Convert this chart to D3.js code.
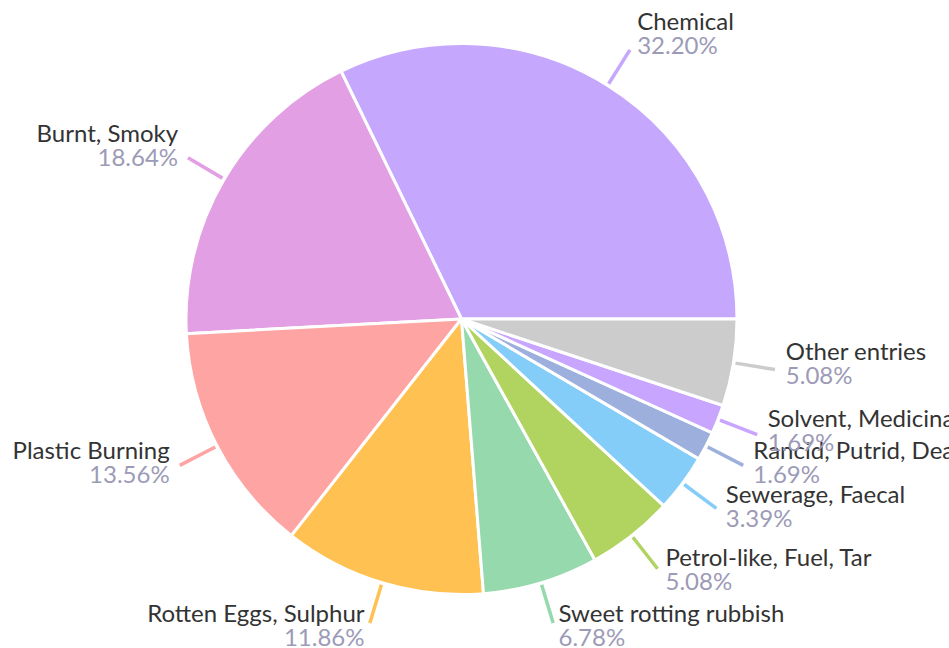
<!DOCTYPE html>
<html><head><meta charset="utf-8">
<script src="https://cdn.jsdelivr.net/npm/d3@7"></script>
<style>html,body{margin:0;padding:0;background:#fff;overflow:hidden}</style>
</head><body><svg id="chart" width="949" height="648"></svg>
<script>
const categories = ["Chemical","Burnt, Smoky","Plastic Burning","Rotten Eggs, Sulphur","Sweet rotting rubbish","Petrol-like, Fuel, Tar","Sewerage, Faecal","Rancid, Putrid, Dead animal","Solvent, Medicinal","Other entries"];
const counts = [19, 11, 8, 7, 4, 3, 2, 1, 1, 3];
const percentLabels = ["32.20%","18.64%","13.56%","11.86%","6.78%","5.08%","3.39%","1.69%","1.69%","5.08%"];
const colors = ["#c5a8fe","#e29fe3","#fea4a3","#ffc152","#95d9ad","#b1d35f","#84cdf8","#9cafdd","#c8a6ff","#cccccc"];

const svg = d3.select("#chart");
const W = 949, H = 648;
const cx = 461.5, cy = 319, R = 275.5;
const FONT = "Lato, 'Open Sans', sans-serif";

const data = categories.map((c,i)=>({name:c, value:counts[i], pct:percentLabels[i], color:colors[i]}));
const pie = d3.pie().sort(null).value(d=>d.value).startAngle(Math.PI/2).endAngle(Math.PI/2 - 2*Math.PI);
const arcs = pie(data);
const arc = d3.arc().innerRadius(0).outerRadius(R);

const g = svg.append("g").attr("transform",`translate(${cx},${cy})`);

// leader lines
arcs.forEach(a=>{
  const m = (a.startAngle + a.endAngle)/2;
  const s = Math.sin(m), c = Math.cos(m);
  g.append("line")
    .attr("x1", (R+2)*s).attr("y1", -(R+2)*c)
    .attr("x2", (R+42)*s).attr("y2", -(R+42)*c)
    .attr("stroke", a.data.color).attr("stroke-width", 3.5);
});

g.selectAll("path.slice").data(arcs).join("path")
  .attr("class","slice")
  .attr("d", arc)
  .attr("fill", d=>d.data.color)
  .attr("stroke", "#fff").attr("stroke-width", 3).attr("stroke-linejoin","round");

// labels
arcs.forEach(a=>{
  const m = (a.startAngle + a.endAngle)/2;
  const s = Math.sin(m), c = Math.cos(m);
  const xe = (R+42)*s, ye = -(R+42)*c;
  const right = s >= 0;
  const gap = 3 + 8*Math.abs(s);
  const x = right ? xe + gap : xe - gap;
  const yName = ye - 11 - 10*c;
  const t = g.append("text")
    .attr("font-family", FONT).attr("font-size", 24)
    .attr("text-anchor", right ? "start" : "end");
  t.append("tspan").attr("x", x).attr("y", yName).attr("fill","#333333").text(a.data.name);
  t.append("tspan").attr("x", x).attr("y", yName + 24).attr("fill","#9c9bb7").text(a.data.pct);
});
</script></body></html>
